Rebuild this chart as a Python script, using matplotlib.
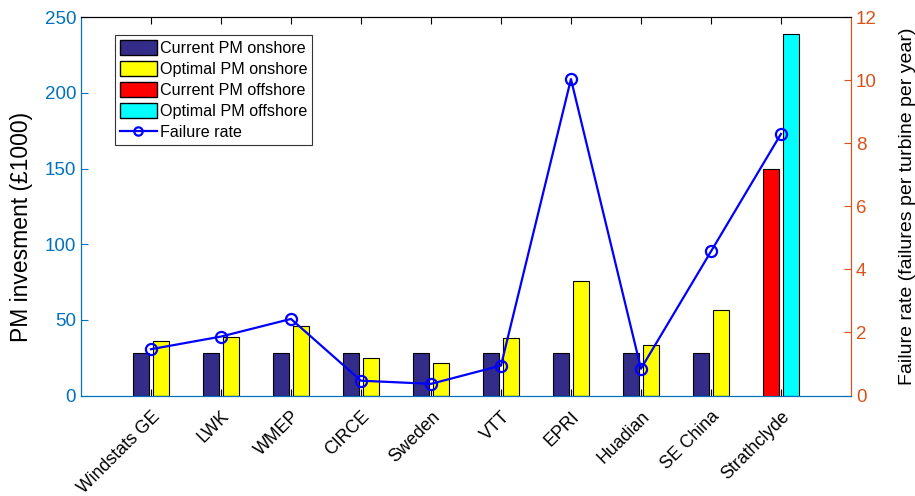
import matplotlib.pyplot as plt
import numpy as np
from matplotlib.patches import Patch
from matplotlib.lines import Line2D

plt.rcParams['font.family'] = ['Liberation Sans', 'DejaVu Sans']

# data
sources = ["Windstats GE", "LWK", "WMEP", "CIRCE", "Sweden", "VTT", "EPRI",
           "Huadian", "SE China", "Strathclyde"]
current_onshore = [28, 28, 28, 28, 28, 28, 28, 28, 28, 0]
optimal_onshore = [36, 38.6, 46, 24.5, 21.5, 38, 75.8, 33.6, 56.2, 0]
current_offshore = [0, 0, 0, 0, 0, 0, 0, 0, 0, 150]
optimal_offshore = [0, 0, 0, 0, 0, 0, 0, 0, 0, 239]
failure_rate = [1.47, 1.87, 2.43, 0.47, 0.37, 0.95, 10.04, 0.85, 4.57, 8.3]

blue_ax = '#0072BD'
orange_ax = '#D95319'
dark = '#332C88'

fig = plt.figure(figsize=(9.15, 4.96), dpi=100)
ax = fig.add_axes([0.0885, 0.2026, 0.8415, 0.7625])
ax2 = ax.twinx()

x = np.arange(1, len(sources) + 1)
w = 0.23
off = 0.145
ax.bar(x - off, current_onshore, w, color=dark, edgecolor='black', linewidth=0.8)
ax.bar(x + off, optimal_onshore, w, color='yellow', edgecolor='black', linewidth=0.8)
ax.bar(x - off, current_offshore, w, color='red', edgecolor='black', linewidth=0.8)
ax.bar(x + off, optimal_offshore, w, color='cyan', edgecolor='black', linewidth=0.8)

ax2.plot(x, failure_rate, color='blue', linewidth=1.6, marker='o', markersize=8,
         markerfacecolor='none', markeredgewidth=1.6)

ax.set_xlim(0, 11)
ax.set_ylim(0, 250)
ax2.set_ylim(0, 12)
ax.set_yticks(np.arange(0, 251, 50))
ax2.set_yticks(np.arange(0, 13, 2))
ax.set_xticks(x)
ax.set_xticklabels(sources, rotation=45, ha='right', va='top',
                   rotation_mode='anchor', fontsize=12.8)

ax.tick_params(axis='y', direction='in', colors=blue_ax, labelsize=13.5, length=5)
ax2.tick_params(axis='y', direction='in', colors=orange_ax, labelsize=13.5, length=5)
ax.tick_params(axis='x', direction='in', length=5, top=True, pad=9)

ax.set_ylabel('PM invesment (£1000)', fontsize=16.5)
ax.yaxis.set_label_coords(-0.062, 0.445)
ax2.set_ylabel('Failure rate (failures per turbine per year)', fontsize=14, labelpad=16)

for a in (ax, ax2):
    a.spines['left'].set_color(blue_ax)
    a.spines['right'].set_color(orange_ax)
    a.spines['bottom'].set_color(blue_ax)
    a.spines['top'].set_color('black')

handles = [Patch(facecolor=dark, edgecolor='black'),
           Patch(facecolor='yellow', edgecolor='black'),
           Patch(facecolor='red', edgecolor='black'),
           Patch(facecolor='cyan', edgecolor='black'),
           Line2D([], [], color='blue', marker='o', markerfacecolor='none',
                  linewidth=1.6, markeredgewidth=1.6)]
labels = ["Current PM onshore", "Optimal PM onshore", "Current PM offshore",
          "Optimal PM offshore", "Failure rate"]
leg = ax2.legend(handles, labels, loc='upper left', bbox_to_anchor=(0.044, 0.953),
                 fontsize=11.6, frameon=True, fancybox=False, edgecolor='black',
                 handlelength=2.3, handleheight=1.05, handletextpad=0.2,
                 labelspacing=0.32, borderpad=0.3, borderaxespad=0)
leg.get_frame().set_linewidth(0.8)

fig.savefig('out.png', dpi=100)
